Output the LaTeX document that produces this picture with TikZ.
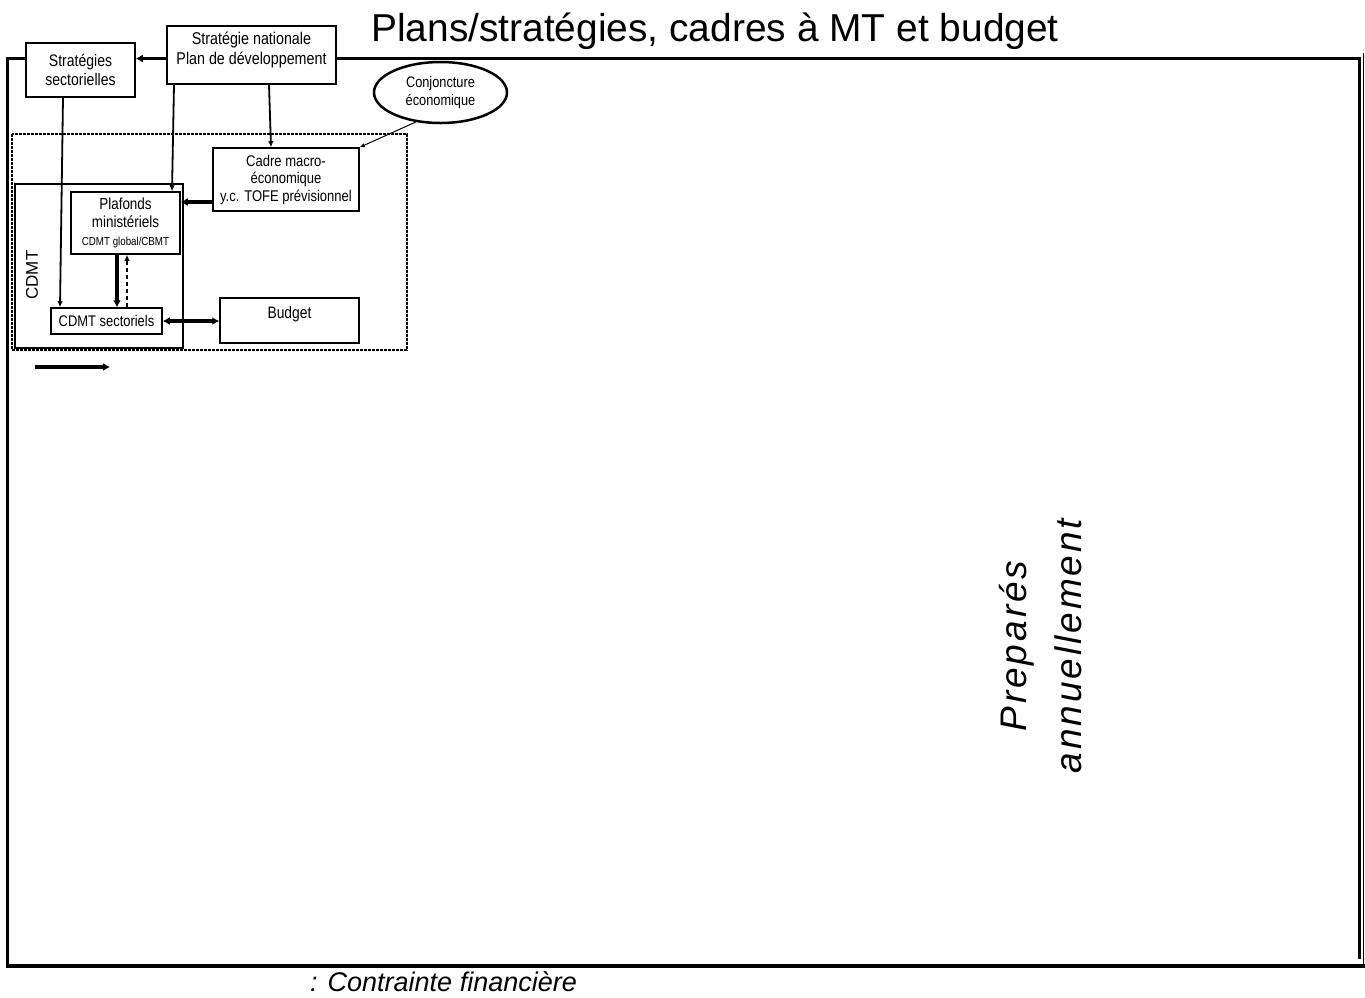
\documentclass[tikz,border=0pt]{standalone}
\usepackage{fontspec}
\setmainfont{Liberation Sans}
\newfontfamily\narrowfont{Liberation Sans}[FakeStretch=0.84]
\usetikzlibrary{arrows.meta,shapes.geometric}
\newcommand{\fsz}[2]{\fontsize{#1}{#2}\selectfont}
\tikzset{
  box/.style={draw, line width=1.5pt, fill=white, align=center, inner sep=2pt},
  thinarrow/.style={line width=1.8pt, -{Latex[length=6pt,width=5.5pt]}},
  thickarrow/.style={line width=3.5pt, -{Latex[length=7pt,width=8pt]}},
  dasharrow/.style={line width=1.8pt, dash pattern=on 4pt off 3pt, -{Latex[length=6pt,width=5.5pt]}},
  container/.style={line width=1.2pt, dash pattern=on 3pt off 1pt},
  framethick/.style={line width=3pt}
}
\begin{document}
\begin{tikzpicture}[x=1pt,y=-1pt]
\useasboundingbox (0,0) rectangle (1365,997);
% containers
\draw[container] (12,134) rectangle (407,350);
\draw[line width=2pt] (15,184) rectangle (183,348);
% nodes
\node[box, minimum width=109pt, minimum height=54pt, font=\narrowfont\fsz{16.7}{19}] (sect) at (80.5,70) {Stratégies\\sectorielles};
\node[box, minimum width=169pt, minimum height=58pt, font=\narrowfont\fsz{17}{20}] (nat) at (251.5,55)
  {\raisebox{5pt}[\height][\depth]{\begin{tabular}{@{}c@{}}Stratégie nationale\\[0pt]Plan de développement\end{tabular}}};
\node[ellipse, draw, line width=2.5pt, fill=white, minimum width=133pt, minimum height=61pt, inner sep=0pt, align=center, font=\narrowfont\fsz{15.2}{18}] (conj) at (440.5,92.5) {Conjoncture\\économique};
\node[box, minimum width=146pt, minimum height=63pt, font=\narrowfont\fsz{15.5}{17.5}] (cadre) at (286,179.5) {Cadre macro-\\économique\\y.c. TOFE prévisionnel};
\node[box, minimum width=109pt, minimum height=62pt, font=\narrowfont\fsz{16}{18}] (plaf) at (125.5,223) {Plafonds\\ministériels\\{\fsz{11.6}{16}CDMT global/CBMT}};
\node[box, minimum width=111pt, minimum height=26pt, font=\narrowfont\fsz{15.4}{17}] (cdmts) at (106.5,321) {CDMT sectoriels};
\node[box, minimum width=139pt, minimum height=45pt, font=\narrowfont\fsz{16.5}{18}, text height=16pt, text depth=20pt, inner ysep=4pt] (budget) at (289.5,320.5) {Budget};
% frame
\coordinate (ytop) at (0,58.5);
\coordinate (fl) at (7.5,58.5);
\coordinate (fr) at (1361,58.5);
\draw[framethick] (fl) -- (sect.west |- ytop);
\draw[framethick] (nat.east |- ytop) -- (fr);
\draw[framethick] (7.5,57) -- (7.5,967);
\draw[line width=4pt] (5.5,966) -- (1364.5,966);
\draw[line width=2.5pt] (1359.5,57) -- (1359.5,959);
\draw[line width=1pt] (1363.5,53) -- (1363.5,966);
% connectors
\draw[thickarrow] (nat.west |- ytop) -- (sect.east |- ytop);
\draw[thinarrow] ([xshift=-17.5pt]sect.south) -- ([xshift=-46.5pt]cdmts.north);
\draw[thinarrow] ([xshift=-77.5pt]nat.south) -- ([xshift=46.5pt]plaf.north);
\draw[thinarrow] ([xshift=17.5pt]nat.south) -- ([xshift=-15pt]cadre.north);
\draw[line width=1pt, -{Latex[length=5pt,width=4.5pt]}] (conj.230) -- (cadre.north east);
\coordinate (y1) at (0,202);
\draw[thickarrow] (cadre.west |- y1) -- (plaf.east |- y1);
\coordinate (x1) at (117,0);
\coordinate (x2) at (127,0);
\draw[thickarrow] (plaf.south -| x1) -- (cdmts.north -| x1);
\draw[dasharrow] (cdmts.north -| x2) -- (plaf.south -| x2);
\draw[line width=3.5pt, {Latex[length=7pt,width=8pt]}-{Latex[length=7pt,width=8pt]}] (cdmts.east) -- (budget.west |- cdmts.east);
\coordinate (l1) at (35,367);
\coordinate (l2) at (110,367);
\draw[thickarrow] (l1) -- (l2);
% texts
\node[anchor=base west, inner sep=0pt, font=\fsz{38.9}{42}] (title) at (371,41) {Plans/stratégies, cadres à MT et budget};
\node[rotate=90, inner sep=0pt, font=\fsz{17}{19}] (cdmtlab) at (32,275) {CDMT};
\node[rotate=90, inner sep=0pt, align=center, font=\fsz{37}{55}\itshape\addfontfeature{LetterSpace=8}] (prep) at (1041,646) {Preparés\\annuellement};
\node[anchor=base west, inner sep=0pt, font=\fsz{27}{30}\itshape] (legend) at (310,991) {: Contrainte financière};
\end{tikzpicture}
\end{document}
